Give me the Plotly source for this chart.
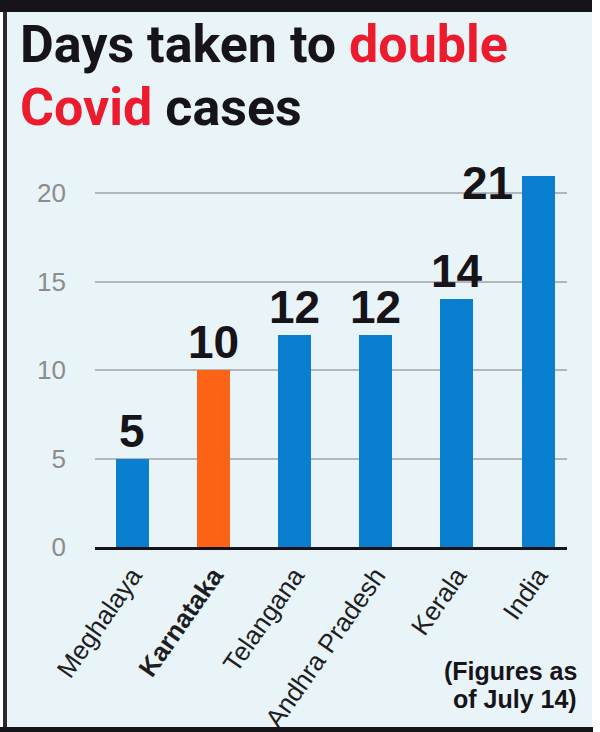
import plotly.graph_objects as go

# ---- data ----
categories = ["Meghalaya", "Karnataka", "Telangana", "Andhra Pradesh", "Kerala", "India"]
days = [5, 10, 12, 12, 14, 21]
highlight = "Karnataka"
label_left_of_bar = "India"
y_ticks = [0, 5, 10, 15, 20]
title_line1 = ("Days taken to ", "double")
title_line2 = ("Covid", " cases")
footnote = ["(Figures as", "of July 14)"]

# ---- layout geometry (pixels) ----
W, H = 600, 732
L, R, T, B = 95, 33, 158, 185
PW = W - L - R
PH = H - T - B


def px(x):
    return (x - L) / PW


def py(y):
    return (H - B - y) / PH


BLUE = "#0b7fcf"
ORANGE = "#fb6417"
BG = "#e9f4f9"
RED = "#ec1c2e"
INK = "#161319"
HEAD = "Roboto, Liberation Sans, Arial, sans-serif"
SANS = "Liberation Sans, Arial, sans-serif"

x_idx = list(range(len(categories)))
colors = [ORANGE if c == highlight else BLUE for c in categories]
ticktext = [f"<b>{c}</b>" if c == highlight else c for c in categories]

fig = go.Figure(
    go.Bar(
        x=x_idx,
        y=days,
        width=0.407,
        marker=dict(color=colors, line=dict(width=0)),
        hoverinfo="skip",
    )
)

annotations = []
for i, (c, v) in enumerate(zip(categories, days)):
    if c == label_left_of_bar:
        annotations.append(dict(
            x=i, y=v, xref="x", yref="y", text=f"<b>{v}</b>", showarrow=False,
            xanchor="right", yanchor="middle", xshift=-23, yshift=-7,
            font=dict(family=SANS, size=46, color=INK)))
    else:
        annotations.append(dict(
            x=i, y=v, xref="x", yref="y", text=f"<b>{v}</b>", showarrow=False,
            xanchor="center", yanchor="bottom", yshift=0,
            font=dict(family=SANS, size=46, color=INK)))

# title
annotations.append(dict(
    x=px(18), y=py(77), xref="paper", yref="paper", xanchor="left", yanchor="bottom",
    text=f"<b>{title_line1[0]}<span style='color:{RED}'>{title_line1[1]}</span></b>",
    showarrow=False, font=dict(family=HEAD, size=52, color=INK)))
annotations.append(dict(
    x=px(18), y=py(140), xref="paper", yref="paper", xanchor="left", yanchor="bottom",
    text=f"<b><span style='color:{RED}'>{title_line2[0]}</span>{title_line2[1]}</b>",
    showarrow=False, font=dict(family=HEAD, size=52, color=INK)))

# footnote
for k, line in enumerate(footnote):
    annotations.append(dict(
        x=px(578), y=py(686 + 28 * k), xref="paper", yref="paper", borderpad=0,
        xanchor="right", yanchor="bottom", text=f"<b>{line}</b>", showarrow=False,
        font=dict(family=SANS, size=25, color=INK)))

shapes = [
    dict(type="rect", xref="paper", yref="paper", x0=px(7), x1=px(592), y0=py(727), y1=py(12),
         fillcolor=BG, line=dict(width=0), layer="below"),
    dict(type="rect", xref="paper", yref="paper", x0=px(0), x1=px(592), y0=py(12), y1=py(0),
         fillcolor=INK, line=dict(width=0), layer="above"),
    dict(type="rect", xref="paper", yref="paper", x0=px(3), x1=px(7), y0=py(727), y1=py(12),
         fillcolor="#2a2a2e", line=dict(width=0), layer="above"),
    dict(type="rect", xref="paper", yref="paper", x0=px(0), x1=px(593), y0=py(732), y1=py(727),
         fillcolor=INK, line=dict(width=0), layer="above"),
]

fig.update_layout(
    width=W, height=H,
    margin=dict(l=L, r=R, t=T, b=B, pad=0, autoexpand=False),
    paper_bgcolor="white",
    plot_bgcolor=BG,
    showlegend=False,
    annotations=annotations,
    shapes=shapes,
    bargap=0,
)
fig.update_xaxes(
    range=[-0.462, 5.357], tickvals=x_idx, ticktext=ticktext, tickangle=-55,
    tickfont=dict(family=SANS, size=26, color="#1e1e1e"), automargin=False,
    showline=True, linecolor=INK, linewidth=3, showgrid=False, zeroline=False,
    ticks="", fixedrange=True,
)
fig.update_yaxes(
    range=[0, 22], tickvals=y_ticks, showgrid=True, gridcolor="#b3b7ba", gridwidth=2,
    zeroline=False, showline=False, ticks="", ticklabelstandoff=28, automargin=False,
    tickfont=dict(family=SANS, size=26, color="#8c8c8c"), fixedrange=True,
)

fig.write_html("out.html")
